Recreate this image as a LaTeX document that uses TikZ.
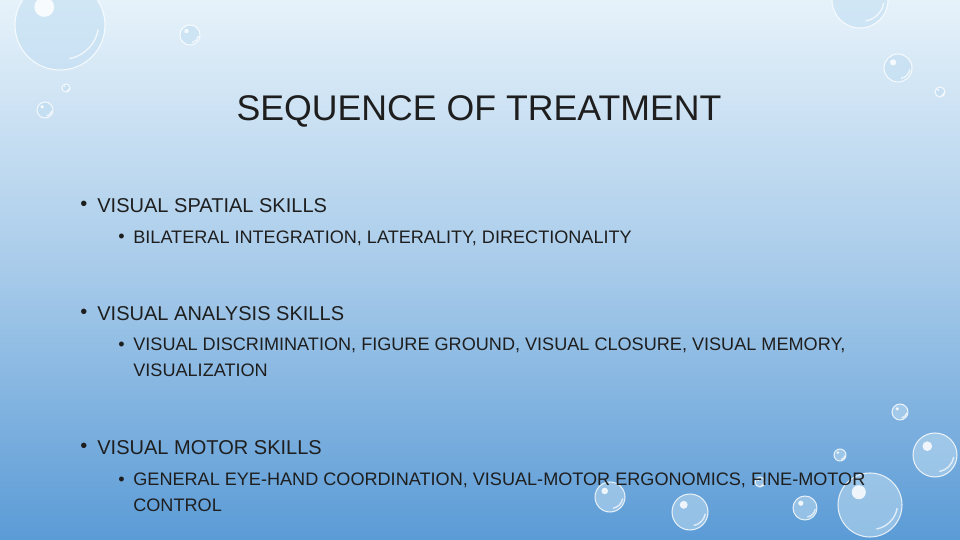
\documentclass[tikz,border=0pt]{standalone}
\usepackage{fontspec}
\setmainfont{Liberation Sans}
\definecolor{bgtop}{HTML}{E6F2FA}
\definecolor{bgbot}{HTML}{5B9BD6}
\definecolor{ink}{HTML}{1E1E1E}
\definecolor{dropc}{HTML}{BFDDF2}
\tikzset{
  lvlone/.style={anchor=west, text=ink, font=\fontsize{11.4}{13}\selectfont, inner sep=0pt},
  lvltwo/.style={anchor=west, text=ink, font=\fontsize{10.3}{14.7}\selectfont, inner sep=0pt, align=left},
  drop/.style={fill=dropc, fill opacity=0.55, draw=white, draw opacity=0.8, line width=0.6pt},
  shine/.style={fill=white, fill opacity=0.85}
}
\newcommand{\waterdrop}[3]{% x, y, r
  \draw[drop] (#1,#2) circle (#3);
  \fill[shine] (#1-0.35*#3,#2-0.4*#3) circle (0.22*#3);
  \draw[white, opacity=0.7, line width=0.8pt] (#1+0.2*#3,#2+0.75*#3) arc (80:10:0.8*#3);
}
\begin{document}
\begin{tikzpicture}[x=0.02cm, y=-0.02cm]
  \useasboundingbox (0,0) rectangle (960,540);
  \shade[top color=bgtop, bottom color=bgbot, middle color=bgtop!55!bgbot] (0,0) rectangle (960,540);
  % drops top
  \waterdrop{60}{25}{45}
  \waterdrop{190}{35}{10}
  \waterdrop{45}{110}{8}
  \waterdrop{66}{88}{4}
  \waterdrop{860}{0}{28}
  \waterdrop{898}{68}{14}
  \waterdrop{940}{92}{5}
  % drops bottom right
  \waterdrop{935}{455}{22}
  \waterdrop{900}{412}{8}
  \waterdrop{840}{455}{6}
  \waterdrop{870}{505}{32}
  \waterdrop{805}{508}{12}
  \waterdrop{690}{512}{18}
  \waterdrop{610}{497}{15}
  \waterdrop{760}{482}{5}
  \node[text=ink, font=\fontsize{20.3}{24}\selectfont] (title) at (479,111) {SEQUENCE OF TREATMENT};
  \node[lvlone] (bulA) at (80,206) {•};
  \node[lvlone] (itA) at (97,206) {VISUAL SPATIAL SKILLS};
  \node[lvltwo] (bulAa) at (118,238) {•};
  \node[lvltwo] (itAa) at (133,238) {BILATERAL INTEGRATION, LATERALITY, DIRECTIONALITY};
  \node[lvlone] (bulB) at (80,314) {•};
  \node[lvlone] (itB) at (97,314) {VISUAL ANALYSIS SKILLS};
  \node[lvltwo] (bulBa) at (118,346) {•};
  \node[lvltwo, anchor=north west] (itBa) at (133,338) {VISUAL DISCRIMINATION, FIGURE GROUND, VISUAL CLOSURE, VISUAL MEMORY,\\VISUALIZATION};
  \node[lvlone] (bulC) at (80,448) {•};
  \node[lvlone] (itC) at (97,448) {VISUAL MOTOR SKILLS};
  \node[lvltwo] (bulCa) at (118,481) {•};
  \node[lvltwo, anchor=north west] (itCa) at (133,473) {GENERAL EYE-HAND COORDINATION, VISUAL-MOTOR ERGONOMICS, FINE-MOTOR\\CONTROL};
\end{tikzpicture}
\end{document}
